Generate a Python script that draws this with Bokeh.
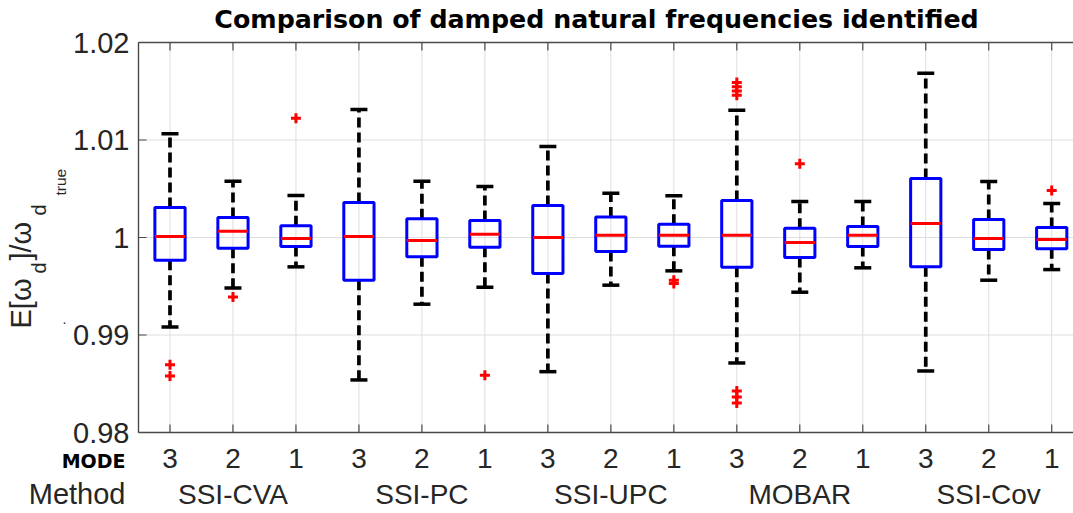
import math
from bokeh.plotting import figure
from bokeh.models import Range1d, ColumnDataSource
from bokeh.core.properties import value
from bokeh.embed import file_html
from bokeh.resources import INLINE

# ---------------- data ----------------
title_text = "Comparison of damped natural frequencies identified"
methods = ["SSI-CVA", "SSI-PC", "SSI-UPC", "MOBAR", "SSI-Cov"]
modes = ["3", "2", "1"]
row_names = ["MODE", "Method"]
ylabel_parts = ["E[ω", "d", "]/ω", "d", "true"]

whisker_high = [1.01064, 1.00578, 1.00431,
                1.01314, 1.00578, 1.00524,
                1.00934, 1.00455, 1.00428,
                1.01304, 1.00370, 1.00370,
                1.01684, 1.00575, 1.00349]
q3 = [1.00308, 1.00205, 1.00120,
      1.00359, 1.00192, 1.00175,
      1.00329, 1.00209, 1.00137,
      1.00380, 1.00096, 1.00113,
      1.00606, 1.00185, 1.00103]
median = [1.00010, 1.00065, 0.99990,
          1.00010, 0.99969, 1.00034,
          1.00000, 1.00024, 1.00024,
          1.00024, 0.99949, 1.00024,
          1.00144, 0.99990, 0.99979]
q1 = [0.99767, 0.99890, 0.99908,
      0.99562, 0.99802, 0.99901,
      0.99630, 0.99856, 0.99911,
      0.99695, 0.99795, 0.99908,
      0.99699, 0.99877, 0.99884]
whisker_low = [0.99083, 0.99483, 0.99699,
               0.98539, 0.99316, 0.99490,
               0.98624, 0.99511, 0.99658,
               0.98713, 0.99439, 0.99689,
               0.98631, 0.99562, 0.99671]
outliers = [[0.98696, 0.98580], [0.99391], [1.01222],
            [], [], [0.98587],
            [], [], [0.99562, 0.99528],
            [1.01591, 1.01547, 1.01502, 1.01458, 0.98426, 0.98364, 0.98303],
            [1.00756], [],
            [], [], [1.00483]]

y_ticks = [0.98, 0.99, 1.0, 1.01, 1.02]
y_tick_labels = ["0.98", "0.99", "1", "1.01", "1.02"]

# ---------------- layout (pixels of the 1073x513 canvas) ----------------
W, H = 1073, 513
AX_L, AX_T, AX_B = 138.0, 42.0, 432.0       # axes box left / top / bottom
XLIM = (0.5, 15.5)
YLIM = (y_ticks[0], y_ticks[-1])
SX = 62.98                                   # px per x unit
SY = (AX_B - AX_T) / (YLIM[1] - YLIM[0])     # px per y unit


def X(px):   # canvas px -> data x
    return XLIM[0] + (px - AX_L) / SX


def Y(py):   # canvas px (from top) -> data y
    return YLIM[0] + (AX_B - py) / SY


def mid(center_px, fs):   # anchor for "middle" baseline so glyph centre lands on centre_px
    return center_px - 0.086 * fs


n = len(median)
pos = list(range(1, n + 1))
mode_labels = [m for _ in methods for m in modes]
group_centers = [3 * g + 2 for g in range(len(methods))]

box_w = 0.48
cap_w = 0.27
tick_len = 8.0

src = ColumnDataSource(dict(
    x=pos,
    left=[x - box_w / 2 for x in pos], right=[x + box_w / 2 for x in pos],
    capl=[x - cap_w / 2 for x in pos], capr=[x + cap_w / 2 for x in pos],
    wh=whisker_high, q3=q3, med=median, q1=q1, wl=whisker_low))

ox, oy = [], []
for x, vals in zip(pos, outliers):
    for v in vals:
        ox.append(x)
        oy.append(v)

AX = "#4a4a4a"
TXT = "#262626"
FONT = "Liberation Sans"
BOLD = "DejaVu Sans"

p = figure(width=W, height=H, output_backend="svg", toolbar_location=None,
           title=None, x_range=Range1d(X(0), X(W)), y_range=Range1d(Y(H), Y(0)),
           x_axis_location=None, y_axis_location=None,
           min_border_left=0, min_border_right=0, min_border_top=0,
           min_border_bottom=0, outline_line_color=None,
           background_fill_color="white", border_fill_color="white")
p.grid.visible = False

# ---- grid ----
p.segment(x0=pos, x1=pos, y0=YLIM[0], y1=YLIM[1], line_color="#dedede", line_width=1)
p.segment(x0=XLIM[0], x1=XLIM[1], y0=y_ticks, y1=y_ticks, line_color="#dedede", line_width=1)

# ---- axes box (left, bottom, top) ----
p.segment(x0=[XLIM[0], XLIM[0], XLIM[0]], x1=[XLIM[0], XLIM[1], XLIM[1]],
          y0=[YLIM[0], YLIM[0], YLIM[1]], y1=[YLIM[1], YLIM[0], YLIM[1]],
          line_color=AX, line_width=1.4)
# inward ticks
p.segment(x0=pos, x1=pos, y0=YLIM[0], y1=YLIM[0] + tick_len / SY, line_color=AX, line_width=1.2)
p.segment(x0=pos, x1=pos, y0=YLIM[1], y1=YLIM[1] - tick_len / SY, line_color=AX, line_width=1.2)
p.segment(x0=XLIM[0], x1=XLIM[0] + tick_len / SX, y0=y_ticks, y1=y_ticks, line_color=AX, line_width=1.2)

# ---- boxplots ----
p.segment(x0="x", x1="x", y0="q3", y1="wh", source=src, line_color="black",
          line_width=3.7, line_dash="10 5")
p.segment(x0="x", x1="x", y0="q1", y1="wl", source=src, line_color="black",
          line_width=3.7, line_dash="10 5")
p.segment(x0="capl", x1="capr", y0="wh", y1="wh", source=src, line_color="black", line_width=3.5)
p.segment(x0="capl", x1="capr", y0="wl", y1="wl", source=src, line_color="black", line_width=3.5)
p.quad(left="left", right="right", bottom="q1", top="q3", source=src,
       fill_color=None, line_color="#0000ff", line_width=3)
p.segment(x0="left", x1="right", y0="med", y1="med", source=src,
          line_color="#ff0000", line_width=3)
p.scatter(ox, oy, marker="cross", size=10, line_color="#ff0000", line_width=3)

# ---- tick labels ----
p.text(x=X(AX_L - 9), y=y_ticks, text=y_tick_labels, text_align="right",
       text_baseline="middle", text_font=value(FONT), text_font_size=value("29px"),
       text_color=TXT)
p.text(x=pos, y=Y(mid(460.5, 28)), text=mode_labels, text_align="center",
       text_baseline="middle", text_font=value(FONT), text_font_size=value("28px"),
       text_color=TXT)
p.text(x=group_centers, y=Y(mid(496, 28)), text=methods, text_align="center",
       text_baseline="middle", text_font=value(FONT), text_font_size=value("28px"),
       text_color=TXT)
p.text(x=X(125), y=Y(mid(496, 29)), text=[row_names[1]], text_align="right",
       text_baseline="middle", text_font=value(FONT), text_font_size=value("29px"),
       text_color=TXT)
p.text(x=X(125), y=Y(mid(462.5, 19)), text=[row_names[0]], text_align="right",
       text_baseline="middle", text_font=value(BOLD), text_font_style="bold",
       text_font_size=value("19px"), text_color="black")

# ---- title ----
p.text(x=X(596), y=Y(mid(21, 25.3)), text=[title_text], text_align="center",
       text_baseline="middle", text_font=value(BOLD), text_font_style="bold",
       text_font_size=value("25.3px"), text_color="black")

# ---- y label (rotated, with subscripts) ----
yl_c = [22.5, 40, 22.5, 40, 61]        # centre line position (px, horizontal)
yl_y = [328, 273, 260, 215, 195]       # start position (px, vertical)
yl_fs = [29, 20, 29, 20, 15.5]
for t, cx, by, fs in zip(ylabel_parts, yl_c, yl_y, yl_fs):
    p.text(x=X(mid(cx, fs)), y=Y(by), text=[t], angle=math.pi / 2, text_align="left",
           text_baseline="middle", text_font=value(FONT),
           text_font_size=value(f"{fs}px"), text_color=TXT)
p.text(x=X(64), y=Y(318), text=["."], text_align="center", text_baseline="alphabetic",
       text_font=value(FONT), text_font_size=value("14px"), text_color=TXT)

open("out.html", "w").write(file_html(p, INLINE))
